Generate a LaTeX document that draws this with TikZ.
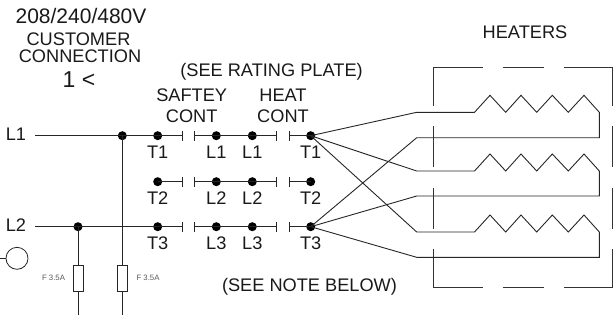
\documentclass[tikz,border=0pt]{standalone}
\usepackage{fontspec}
\setmainfont{Liberation Sans}
\newcommand{\fsz}[1]{\fontsize{#1}{#1}\selectfont}
\tikzset{
  wire/.style={draw=black!85,line width=0.9pt},
  dotn/.style={circle,fill=black,draw=none,minimum size=9pt,inner sep=0pt},
  lbl/.style={anchor=base,inner sep=0pt,font=\fsz{18.2},text=black!90},
  biglbl/.style={anchor=base,inner sep=0pt,font=\fsz{21},text=black!90},
  fuselbl/.style={anchor=base,inner sep=0pt,font=\fsz{7.8},text=black!65},
  fusebox/.style={draw=black!85,line width=0.8pt,fill=white,minimum width=10pt,minimum height=26.5pt,inner sep=0pt},
  enclosure/.style={draw=black!80,line width=0.8pt},
}
\begin{document}
\begin{tikzpicture}[x=1pt,y=-1pt]
\useasboundingbox (0,0) rectangle (613,322);
% text
\node[biglbl] (volt) at (81,23.3) {208/240/480V};
\node[lbl] (cust) at (78.5,45) {CUSTOMER};
\node[lbl] (conn) at (80,62.7) {CONNECTION};
\node[biglbl,font=\fsz{23}] (one) at (79,87.3) {1 <};
\node[lbl] (rate) at (271.5,76.7) {(SEE RATING PLATE)};
\node[lbl] (saf) at (191.7,101.7) {SAFTEY};
\node[lbl] (heat) at (283,101.7) {HEAT};
\node[lbl] (cont1) at (191.7,122.7) {CONT};
\node[lbl] (cont2) at (283,122.7) {CONT};
\node[lbl] (htrs) at (525,38.5) {HEATERS};
\node[lbl] (note) at (309.5,291) {(SEE NOTE BELOW)};
\node[lbl] (lA) at (16,140.7) {L1};
\node[lbl] (lB) at (16,231) {L2};
% rows of contacts
\foreach \r/\y/\lab/\tl in {a/135.7/1/158.5,b/181.7/2/204,c/226.7/3/249}{
  \node[dotn] (\r1) at (157.7,\y) {};
  \coordinate (\r1t) at (182,\y);
  \coordinate (\r2t) at (194.7,\y);
  \node[dotn] (\r2) at (216.3,\y) {};
  \node[dotn] (\r3) at (252.3,\y) {};
  \coordinate (\r3t) at (276,\y);
  \coordinate (\r4t) at (289.3,\y);
  \node[dotn] (\r4) at (310.7,\y) {};
  \draw[wire] (\r1.center) -- (\r1t);
  \draw[wire] (\r2t) -- (\r2.center) -- (\r3.center) -- (\r3t);
  \draw[wire] (\r4t) -- (\r4.center);
  \foreach \tk in {\r1t,\r2t,\r3t,\r4t}{
    \draw[wire] ([yshift=-5pt]\tk) -- ([yshift=5pt]\tk);
  }
  \node[lbl] at (157.7,\tl) {T\lab};
  \node[lbl] at (216.3,\tl) {L\lab};
  \node[lbl] at (252.3,\tl) {L\lab};
  \node[lbl] at (310.7,\tl) {T\lab};
}
% incoming lines
\coordinate (inA) at (35,135.7);
\coordinate (inB) at (35,226.7);
\node[dotn] (jA) at (122.3,135.7) {};
\node[dotn] (jB) at (78,226.7) {};
\draw[wire] (inA) -- (jA.center) -- (a1.center);
\draw[wire] (inB) -- (jB.center) -- (c1.center);
\coordinate (endA) at (122.3,315);
\coordinate (endB) at (78,315);
\draw[wire] (jA.center) -- (endA);
\draw[wire] (jB.center) -- (endB);
\node[fusebox] (fA) at (122.3,278.3) {};
\node[fusebox] (fB) at (78,278.3) {};
\node[fuselbl] (fAl) at (148,280.5) {F 3.5A};
\node[fuselbl] (fBl) at (53.5,280.5) {F 3.5A};
% circle
\node[circle,draw=black!85,line width=0.8pt,fill=white,minimum size=22pt,inner sep=0pt] (term) at (17,258.3) {};
\coordinate (termin) at (0,258.3);
\draw[wire] (termin) -- (term);
% enclosure
\draw[enclosure] (482.7,67.3) -- (433.3,67.3) -- (433.3,105.7);
\draw[enclosure] (502.7,67.3) -- (544,67.3);
\draw[enclosure] (564.3,67.3) -- (612.6,67.3) -- (612.6,105.7);
\foreach \xv in {433.3,612.6}{
  \draw[enclosure] (\xv,126) -- (\xv,167.3);
  \draw[enclosure] (\xv,187.7) -- (\xv,229.3);
}
\draw[enclosure] (433.3,249.3) -- (433.3,287.7) -- (482.7,287.7);
\draw[enclosure] (502.7,287.7) -- (544,287.7);
\draw[enclosure] (564.3,287.7) -- (612.6,287.7) -- (612.6,249.3);
% heaters
\foreach \n/\ya/\yb in {1/112.3/137.7,2/171/196,3/232/257.3}{
  \pgfmathsetmacro{\yp}{\ya-17}
  \coordinate (hs\n) at (416.7,\ya);
  \coordinate (hr\n) at (416.7,\yb);
  \coordinate (he\n) at (599.3,\ya);
  \coordinate (hf\n) at (599.3,\yb);
  \draw[wire,line join=miter] (a4.center) -- (hs\n) -- (474.5,\ya)
    -- (490,\yp) -- (505.7,\ya) -- (521,\yp) -- (536.7,\ya) -- (552.3,\yp) -- (568.3,\ya) -- (584,\yp)
    -- (he\n) -- (hf\n) -- (hr\n) -- (c4.center);
}
\end{tikzpicture}
\end{document}
